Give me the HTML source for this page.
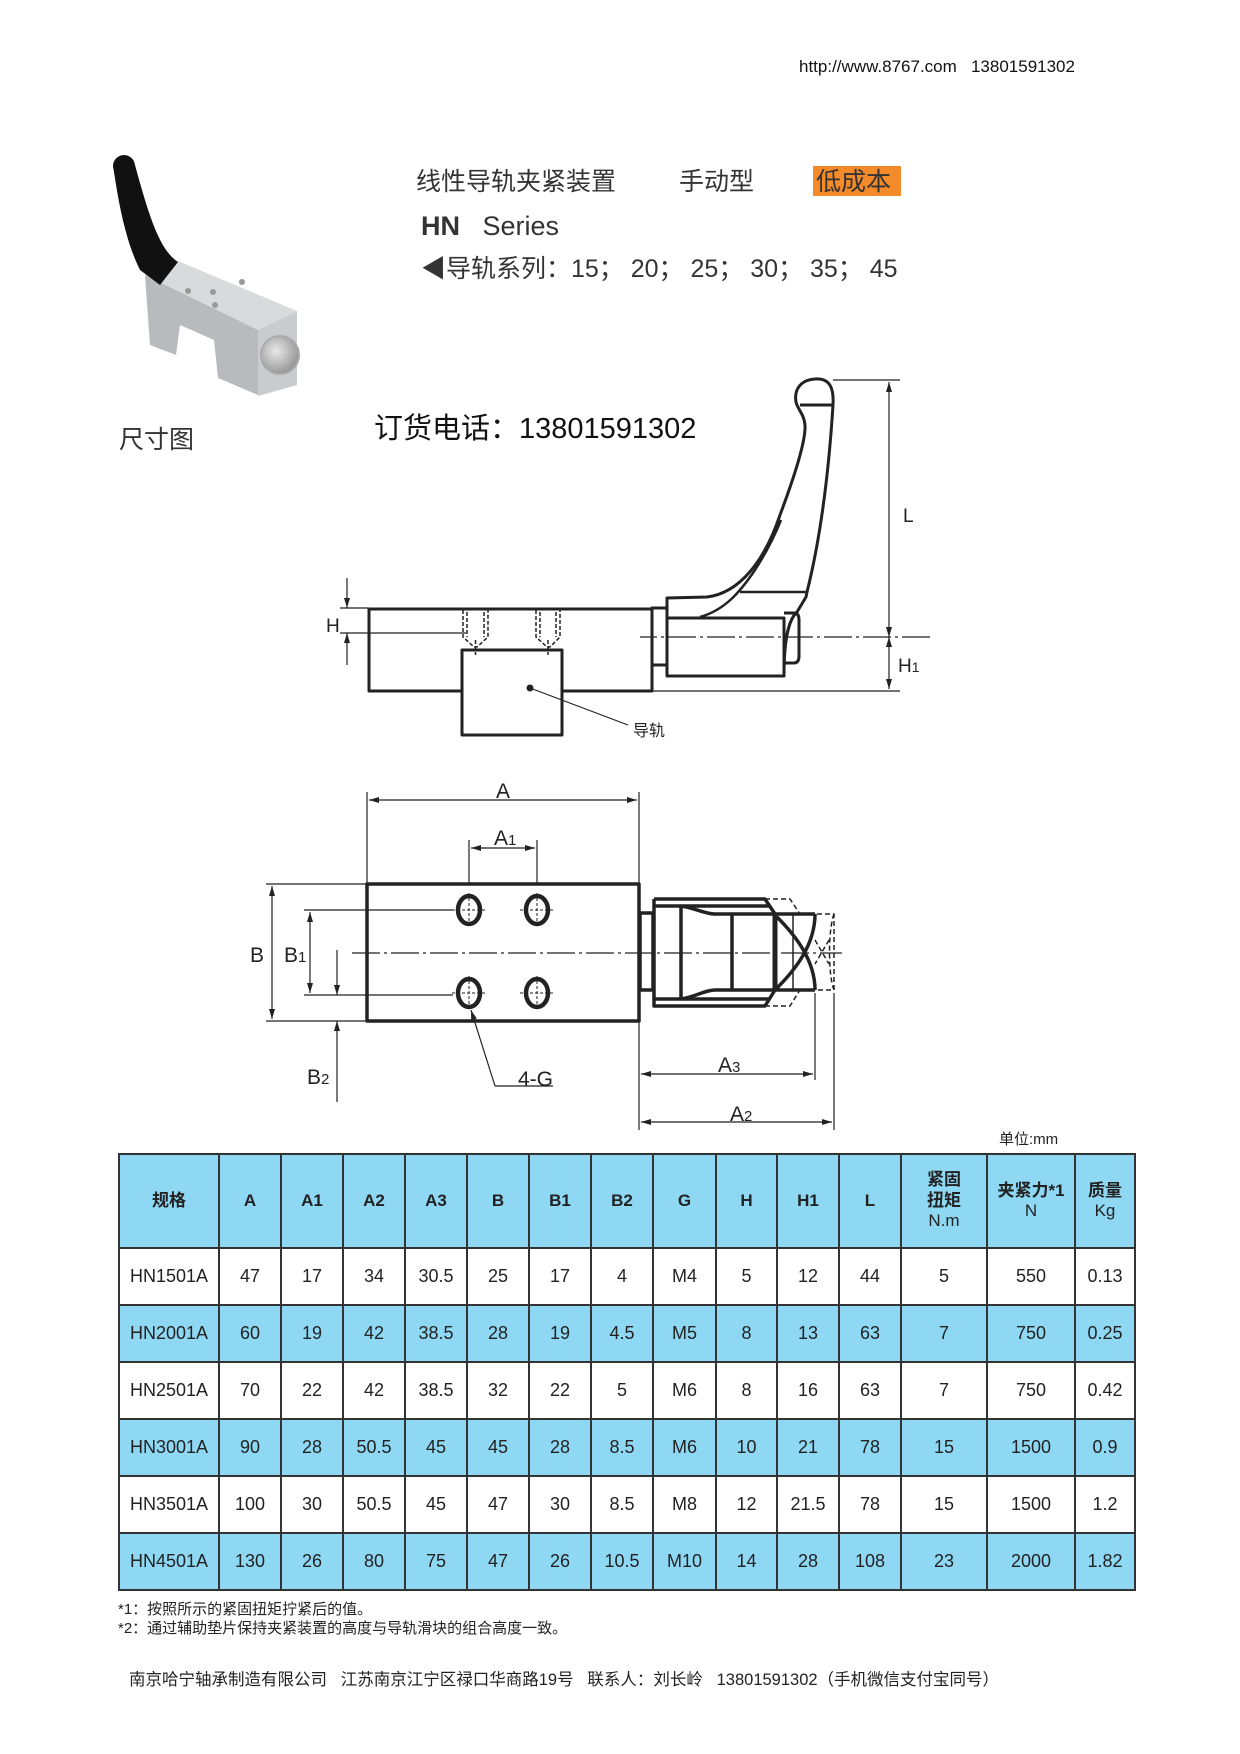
<!DOCTYPE html>
<html><head><meta charset="utf-8">
<style>
html,body{margin:0;padding:0;background:#fff;}
body{width:1240px;height:1754px;position:relative;overflow:hidden;font-family:"Liberation Sans","Noto Sans CJK SC",sans-serif;color:#222;}
.t{position:absolute;white-space:nowrap;line-height:1;}
table{position:absolute;left:118px;top:1153px;border-collapse:collapse;table-layout:fixed;font-family:"Liberation Sans","Noto Sans CJK SC",sans-serif;}
td{border:2px solid #333;text-align:center;font-size:18px;color:#222;padding:0;}
tr.h td{height:92px;background:#8ed8f4;font-weight:bold;font-size:17px;line-height:1.2;}
tr.r td{height:55px;}
tr.b td{background:#8ed8f4;}
</style></head><body>
<div class="t" style="left:799px;top:58px;font-size:17px;color:#111;">http://www.8767.com&nbsp;&nbsp; 13801591302</div>
<div class="t" style="left:416px;top:168px;font-size:25px;color:#333;font-family:'Noto Sans CJK SC',sans-serif;">线性导轨夹紧装置</div>
<div class="t" style="left:679px;top:168px;font-size:25px;color:#333;font-family:'Noto Sans CJK SC',sans-serif;">手动型</div>
<div class="t" style="left:813px;top:166px;width:88px;height:30px;background:#f58a2a;"></div>
<div class="t" style="left:816px;top:168px;font-size:25px;color:#333;font-family:'Noto Sans CJK SC',sans-serif;">低成本</div>
<div class="t" style="left:421px;top:213px;font-size:27px;color:#333;"><b>HN</b>&nbsp;&nbsp;&nbsp;Series</div>
<div class="t" style="left:421px;top:257px;font-size:25px;color:#333;font-family:'Liberation Sans','Noto Sans CJK SC',sans-serif;">◀导轨系列：15； 20； 25； 30； 35； 45</div>
<div class="t" style="left:119px;top:426px;font-size:25px;color:#333;font-family:'Noto Sans CJK SC',sans-serif;">尺寸图</div>
<div class="t" style="left:374px;top:415px;font-size:29px;color:#111;font-family:'Liberation Sans','Noto Sans CJK SC',sans-serif;">订货电话：13801591302</div>

<svg width="1240" height="1754" style="position:absolute;left:0;top:0" xmlns="http://www.w3.org/2000/svg">
<defs>
<marker id="ar" viewBox="0 0 10 6" refX="10" refY="3" markerWidth="10" markerHeight="6" markerUnits="userSpaceOnUse" orient="auto-start-reverse"><path d="M0,0 L10,3 L0,6 z" fill="#222"/></marker>
<radialGradient id="lens" cx="0.4" cy="0.4" r="0.7"><stop offset="0" stop-color="#e8e8e8"/><stop offset="1" stop-color="#8a8a8a"/></radialGradient>
</defs>
<g>
<polygon points="145,275 178,261 297,311 258,330" fill="#d9dadc"/>
<polygon points="145,275 258,330 258,395 218,378 214,340 180,325 176,355 150,345" fill="#b8babd"/>
<polygon points="258,330 297,311 297,385 258,396" fill="#c9cbce"/>
<circle cx="280" cy="355" r="19" fill="url(#lens)" stroke="#aaa" stroke-width="2"/>
<path d="M113,165 C118,200 125,240 140,270 L160,285 L178,262 C160,250 150,220 135,165 Z" fill="#111"/>
<circle cx="124" cy="166" r="11" fill="#111"/>
<circle cx="213" cy="292" r="3" fill="#999"/><circle cx="188" cy="291" r="3" fill="#999"/><circle cx="242" cy="282" r="3" fill="#999"/><circle cx="215" cy="305" r="3" fill="#999"/>
</g>

<g fill="none" stroke="#222" stroke-linejoin="round">
<path d="M462,691 L369,691 L369,609 L652,609 L652,691 L562,691" stroke-width="3"/>
<rect x="462" y="650" width="100" height="85" stroke-width="3"/>
<g stroke-width="1.5" stroke-dasharray="4,2">
<path d="M463,610 L463,637 L474,647 L477,647 L488,637 L488,610 M467,612 L467,637 M484,612 L484,637 M475.5,640 L475.5,655"/>
<path d="M536,610 L536,637 L547,647 L550,647 L560,637 L560,610 M540,612 L540,637 M556,612 L556,637 M548,640 L548,655"/>
</g>
<circle cx="530" cy="688" r="3" fill="#222"/>
<path d="M530,688 L628,725" stroke-width="1.2"/>
<path d="M340,608 L369,608 M340,633 L466,633" stroke-width="1.2"/>
<path d="M347,578 L347,608" stroke-width="1.2" marker-end="url(#ar)"/>
<path d="M347,665 L347,633" stroke-width="1.2" marker-end="url(#ar)"/>
<rect x="652" y="608" width="15" height="57" stroke-width="3"/>
<rect x="667" y="618" width="117" height="58" stroke-width="3"/>
<path d="M784,676 C784,650 786,622 797,612 L806,597 L807,592 C815,560 827,500 833,405" stroke-width="3"/>
<path d="M784,613 L794,613 Q799,613 799,620 L799,656 Q799,663 794,663 L784,663" stroke-width="3"/>
<path d="M667,618 L667,598 L707,597 C740,593 765,560 780,515 C795,475 806,440 805,425 C804,414 798,410 796,402 C794,390 800,380 815,379 C830,378 834,388 833,405 L800,405" stroke-width="3"/>
<path d="M700,617 C725,610 740,592 755,570 C766,553 775,535 781,520" stroke-width="2.5"/>
<path d="M740,592 L806,592" stroke-width="2.5"/>
<path d="M930,637 L640,637" stroke-width="1.2" stroke-dasharray="28,4,3,4"/>
<path d="M833,380 L900,380 M652,691 L900,691" stroke-width="1.2"/>
<path d="M889,382 L889,637" stroke-width="1.2" marker-start="url(#ar)" marker-end="url(#ar)"/>
<path d="M889,637 L889,689" stroke-width="1.2" marker-start="url(#ar)" marker-end="url(#ar)"/>

<rect x="367" y="884" width="272" height="137" stroke-width="3.5"/>
<path d="M367,792 L367,884 M639,792 L639,884 M469,840 L469,884 M537,840 L537,884" stroke-width="1.2"/>
<path d="M369,800 L637,800" stroke-width="1.2" marker-start="url(#ar)" marker-end="url(#ar)"/>
<path d="M471,848 L535,848" stroke-width="1.2" marker-start="url(#ar)" marker-end="url(#ar)"/>
<g stroke-width="4.5"><ellipse cx="469" cy="910" rx="11" ry="14"/><ellipse cx="537" cy="910" rx="11" ry="14"/><ellipse cx="469" cy="993" rx="11" ry="14"/><ellipse cx="537" cy="993" rx="11" ry="14"/></g>
<g stroke-width="1" stroke-dasharray="3,2"><path d="M452,910 L486,910 M520,910 L554,910 M452,993 L486,993 M520,993 L554,993 M469,893 L469,927 M537,893 L537,927 M469,976 L469,1010 M537,976 L537,1010"/></g>
<path d="M266,884 L367,884 M266,1021 L367,1021 M304,910 L453,910 M304,995 L453,995" stroke-width="1.2"/>
<path d="M272,886 L272,1019" stroke-width="1.2" marker-start="url(#ar)" marker-end="url(#ar)"/>
<path d="M310,912 L310,993" stroke-width="1.2" marker-start="url(#ar)" marker-end="url(#ar)"/>
<path d="M337,950 L337,995" stroke-width="1.2" marker-end="url(#ar)"/>
<path d="M337,1102 L337,1021" stroke-width="1.2" marker-end="url(#ar)"/>
<path d="M352,953 L842,953" stroke-width="1.2" stroke-dasharray="28,4,3,4"/>
<path d="M495,1086 L471,1010" stroke-width="1.2" marker-end="url(#ar)"/>
<path d="M495,1086 L553,1086" stroke-width="1.2"/>
<rect x="640" y="913" width="13" height="77" stroke-width="3.5"/>
<path d="M654,899 L765,899 L775,914 M654,906 L770,906 M654,899 L654,1006 L765,1006 L775,990 M654,999 L770,999" stroke-width="3.5"/>
<path d="M681,906 L681,999 M681,906 C695,908 705,914 715,914 L775,914 M681,999 C695,997 705,990 715,990 L775,990 M732,914 L732,990" stroke-width="3.5"/>
<path d="M775,914 L775,990" stroke-width="5"/>
<path d="M775,914 L815,914 M775,990 L815,990 M777,917 C795,935 815,960 815,990 M815,914 C815,945 795,970 777,988" stroke-width="3.5"/>
<g stroke-width="1.5" stroke-dasharray="5,3"><path d="M765,899 L790,899 L800,914 M765,1006 L790,1006 L800,990 M793,914 L834,914 L834,990 L793,990 Z M793,914 L793,990 M815,940 L829,964 M829,940 L815,964 M834,914 C828,930 828,975 834,990"/></g>
<path d="M639,1021 L639,1130 M815,993 L815,1080 M834,993 L834,1130" stroke-width="1.2"/>
<path d="M641,1074 L813,1074" stroke-width="1.2" marker-start="url(#ar)" marker-end="url(#ar)"/>
<path d="M641,1122 L832,1122" stroke-width="1.2" marker-start="url(#ar)" marker-end="url(#ar)"/>
</g>
<g font-family="Liberation Sans, sans-serif" fill="#222" font-size="21">
<text x="326" y="632" font-size="19">H</text>
<text x="903" y="522" font-size="19">L</text>
<text x="898" y="672" font-size="19">H<tspan font-size="14">1</tspan></text>
<text x="633" y="736" font-size="16" font-family="Noto Sans CJK SC, sans-serif">导轨</text>
<text x="496" y="798">A</text>
<text x="494" y="845">A<tspan font-size="15">1</tspan></text>
<text x="250" y="962">B</text>
<text x="284" y="962">B<tspan font-size="15">1</tspan></text>
<text x="307" y="1084">B<tspan font-size="15">2</tspan></text>
<text x="518" y="1086">4-G</text>
<text x="718" y="1072">A<tspan font-size="15">3</tspan></text>
<text x="730" y="1121">A<tspan font-size="15">2</tspan></text>
<text x="999" y="1144" font-size="15" font-family="Liberation Sans, Noto Sans CJK SC, sans-serif">单位:mm</text>
</g>
</svg>

<table>
<colgroup><col style="width:100px"><col style="width:62px"><col style="width:62px"><col style="width:62px"><col style="width:62px"><col style="width:62px"><col style="width:62px"><col style="width:62px"><col style="width:63px"><col style="width:61px"><col style="width:62px"><col style="width:62px"><col style="width:86px"><col style="width:88px"><col style="width:60px"></colgroup>
<tr class="h"><td>规格</td><td>A</td><td>A1</td><td>A2</td><td>A3</td><td>B</td><td>B1</td><td>B2</td><td>G</td><td>H</td><td>H1</td><td>L</td><td>紧固<br>扭矩<br><span style="font-weight:normal">N.m</span></td><td>夹紧力*1<br><span style="font-weight:normal">N</span></td><td>质量<br><span style="font-weight:normal">Kg</span></td></tr>
<tr class="r"><td>HN1501A</td><td>47</td><td>17</td><td>34</td><td>30.5</td><td>25</td><td>17</td><td>4</td><td>M4</td><td>5</td><td>12</td><td>44</td><td>5</td><td>550</td><td>0.13</td></tr>
<tr class="r b"><td>HN2001A</td><td>60</td><td>19</td><td>42</td><td>38.5</td><td>28</td><td>19</td><td>4.5</td><td>M5</td><td>8</td><td>13</td><td>63</td><td>7</td><td>750</td><td>0.25</td></tr>
<tr class="r"><td>HN2501A</td><td>70</td><td>22</td><td>42</td><td>38.5</td><td>32</td><td>22</td><td>5</td><td>M6</td><td>8</td><td>16</td><td>63</td><td>7</td><td>750</td><td>0.42</td></tr>
<tr class="r b"><td>HN3001A</td><td>90</td><td>28</td><td>50.5</td><td>45</td><td>45</td><td>28</td><td>8.5</td><td>M6</td><td>10</td><td>21</td><td>78</td><td>15</td><td>1500</td><td>0.9</td></tr>
<tr class="r"><td>HN3501A</td><td>100</td><td>30</td><td>50.5</td><td>45</td><td>47</td><td>30</td><td>8.5</td><td>M8</td><td>12</td><td>21.5</td><td>78</td><td>15</td><td>1500</td><td>1.2</td></tr>
<tr class="r b"><td>HN4501A</td><td>130</td><td>26</td><td>80</td><td>75</td><td>47</td><td>26</td><td>10.5</td><td>M10</td><td>14</td><td>28</td><td>108</td><td>23</td><td>2000</td><td>1.82</td></tr>
</table>

<div class="t" style="left:118px;top:1602px;font-size:15px;font-family:'Liberation Sans','Noto Sans CJK SC',sans-serif;">*1：按照所示的紧固扭矩拧紧后的值。</div>
<div class="t" style="left:118px;top:1621px;font-size:15px;font-family:'Liberation Sans','Noto Sans CJK SC',sans-serif;">*2：通过辅助垫片保持夹紧装置的高度与导轨滑块的组合高度一致。</div>
<div class="t" style="left:129px;top:1672px;font-size:16.5px;font-family:'Liberation Sans','Noto Sans CJK SC',sans-serif;">南京哈宁轴承制造有限公司&nbsp;&nbsp; 江苏南京江宁区禄口华商路19号&nbsp;&nbsp; 联系人：刘长岭&nbsp;&nbsp; 13801591302（手机微信支付宝同号）</div>
</body></html>
